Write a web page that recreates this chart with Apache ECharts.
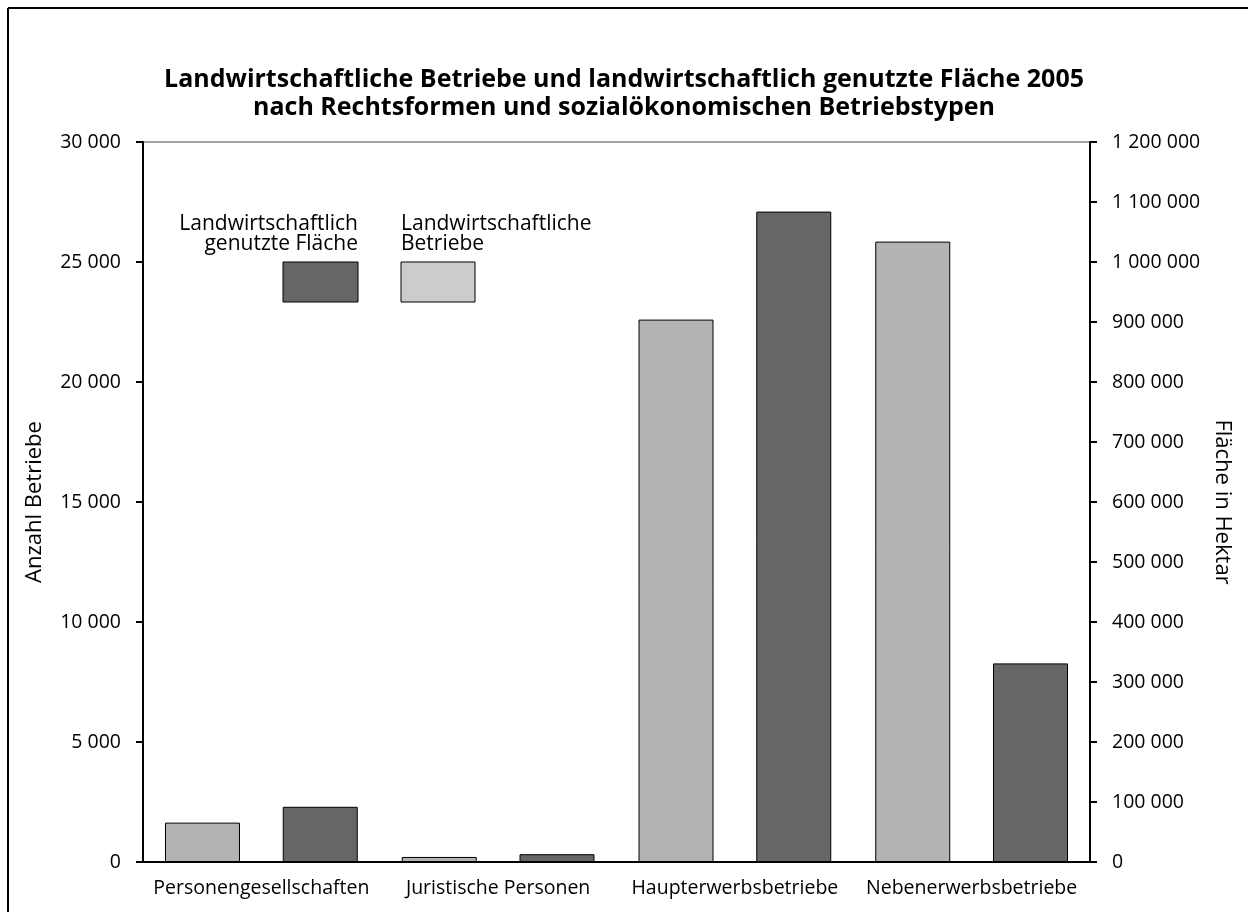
<!DOCTYPE html>
<html>
<head>
<meta charset="utf-8">
<script src="https://cdn.jsdelivr.net/npm/echarts@6/dist/echarts.min.js"></script>
<style>
  html, body { margin: 0; padding: 0; background: #fff; }
  #chart { width: 1248px; height: 912px; }
</style>
</head>
<body>
<div id="chart"></div>
<script>
const titleLines = [
  'Landwirtschaftliche Betriebe und landwirtschaftlich genutzte Fläche 2005',
  'nach Rechtsformen und sozialökonomischen Betriebstypen'
];
const categories = ['Personengesellschaften', 'Juristische Personen', 'Haupterwerbsbetriebe', 'Nebenerwerbsbetriebe'];
const betriebe = [1640, 210, 22600, 25850];          // Anzahl Betriebe (left axis)
const flaeche = [92000, 13000, 1084000, 331000];     // Fläche in Hektar (right axis)
const seriesNames = ['Landwirtschaftliche\nBetriebe', 'Landwirtschaftlich\ngenutzte Fläche'];
const leftAxisName = 'Anzahl Betriebe';
const rightAxisName = 'Fläche in Hektar';

const FONT = 'Open Sans';
const fmt = v => String(v).replace(/\B(?=(\d{3})+(?!\d))/g, ' ');

const chart = echarts.init(document.getElementById('chart'), null, { renderer: 'canvas' });
chart.setOption({
  backgroundColor: '#ffffff',
  animation: false,
  textStyle: { fontFamily: FONT, color: '#000' },
  title: {
    text: titleLines.join('\n'),
    left: 'center',
    top: 61,
    textStyle: { fontFamily: FONT, fontSize: 25, fontWeight: 'bold', color: '#000', lineHeight: 28 }
  },
  grid: {
    left: 143, right: 158, top: 142, bottom: 50,
    show: true, borderColor: '#444', borderWidth: 1, backgroundColor: 'transparent'
  },
  xAxis: {
    type: 'category',
    data: categories,
    axisLine: { lineStyle: { color: '#000', width: 2 } },
    axisTick: { show: false },
    axisLabel: { fontFamily: FONT, fontSize: 19.5, color: '#000', margin: 16, interval: 0, hideOverlap: false }
  },
  yAxis: [
    {
      type: 'value', min: 0, max: 30000, interval: 5000, position: 'left',
      name: leftAxisName, nameLocation: 'middle', nameGap: 97,
      nameTextStyle: { fontFamily: FONT, fontSize: 22, color: '#000' },
      axisLine: { show: true, lineStyle: { color: '#000', width: 2 } },
      axisTick: { show: true, length: 7, lineStyle: { color: '#000', width: 2 } },
      axisLabel: { fontFamily: FONT, fontSize: 19.5, color: '#000', margin: 22, formatter: fmt },
      splitLine: { show: false }
    },
    {
      type: 'value', min: 0, max: 1200000, interval: 100000, position: 'right',
      name: rightAxisName, nameLocation: 'middle', nameGap: 121, nameRotate: -90,
      nameTextStyle: { fontFamily: FONT, fontSize: 22, color: '#000' },
      axisLine: { show: true, lineStyle: { color: '#000', width: 2 } },
      axisTick: { show: true, length: 7, lineStyle: { color: '#000', width: 2 } },
      axisLabel: { fontFamily: FONT, fontSize: 19.5, color: '#000', margin: 22, formatter: fmt },
      splitLine: { show: false }
    }
  ],
  series: [
    {
      name: seriesNames[0], type: 'bar', yAxisIndex: 0, data: betriebe,
      barWidth: 75, barGap: '57%',
      itemStyle: { color: '#b3b3b3', borderColor: '#000', borderWidth: 1 }
    },
    {
      name: seriesNames[1], type: 'bar', yAxisIndex: 1, data: flaeche,
      barWidth: 75,
      itemStyle: { color: '#666666', borderColor: '#000', borderWidth: 1 }
    }
  ],
  graphic: [
    { type: 'line', shape: { x1: 8, y1: 8, x2: 1248, y2: 8 }, style: { stroke: '#000', lineWidth: 2 } },
    { type: 'line', shape: { x1: 8, y1: 8, x2: 8, y2: 912 }, style: { stroke: '#000', lineWidth: 2 } },
    { type: 'rect', shape: { x: 283, y: 262, width: 75, height: 40 }, style: { fill: '#666666', stroke: '#000', lineWidth: 1 } },
    { type: 'rect', shape: { x: 401, y: 262, width: 74, height: 40 }, style: { fill: '#cccccc', stroke: '#000', lineWidth: 1 } },
    { type: 'text', x: 358, y: 214, style: { text: seriesNames[1], fontFamily: FONT, fontSize: 21, lineHeight: 20, fill: '#000', align: 'right', verticalAlign: 'top' } },
    { type: 'text', x: 401, y: 214, style: { text: seriesNames[0], fontFamily: FONT, fontSize: 21, lineHeight: 20, fill: '#000', align: 'left', verticalAlign: 'top' } }
  ]
});
</script>
</body>
</html>
